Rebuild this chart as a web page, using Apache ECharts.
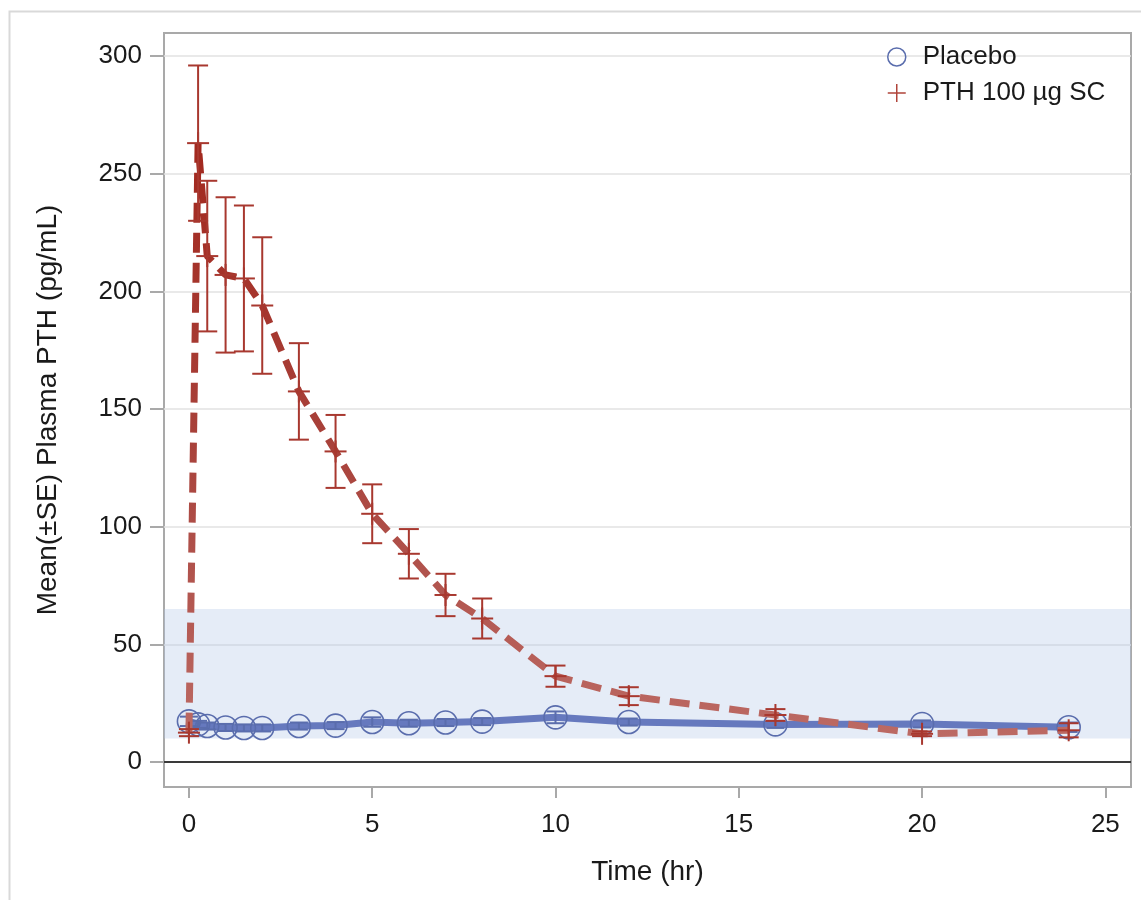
<!DOCTYPE html>
<html>
<head>
<meta charset="utf-8">
<script src="https://cdn.jsdelivr.net/npm/echarts@6/dist/echarts.min.js"></script>
<style>
html,body{margin:0;padding:0;background:#fff;}
#chart{width:1141px;height:900px;}
</style>
</head>
<body>
<div id="chart"></div>
<script>
// ---- data ----
const times = [0, 0.25, 0.5, 1, 1.5, 2, 3, 4, 5, 6, 7, 8, 10, 12, 16, 20, 24];
const placeboMean = [17.3, 16, 15.3, 14.7, 14.5, 14.5, 15.3, 15.5, 17, 16.5, 16.8, 17.2, 19, 17, 16, 16.2, 14.8];
const placeboSE   = [2, 1.5, 1.5, 1.5, 1.5, 1.5, 1.5, 1.5, 2, 1.5, 1.5, 1.5, 2.5, 1.5, 1.5, 1.5, 2];
const pthMean = [12.5, 263, 215, 207, 205.5, 194, 157.5, 132, 105.5, 88.5, 71, 61, 36.5, 28, 20, 12, 13.5];
const pthSE   = [1.5, 33, 32, 33, 31, 29, 20.5, 15.5, 12.5, 10.5, 9, 8.5, 4.5, 3.8, 2.5, 1, 3];
const xTicks = [0, 5, 10, 15, 20, 25];
const yTicks = [0, 50, 100, 150, 200, 250, 300];
const normalRange = [10, 65];
const seriesNames = ['Placebo', 'PTH 100 µg SC'];

const FONT = '"Liberation Sans", Arial, sans-serif';
const BLUE_LINE = '#6679BE';
const BLUE_MARK = '#5A6DAD';
const RED_MARK = '#A8382F';

function zip2(xs, ys) { return xs.map((x, i) => [x, ys[i]]); }
function zip3(xs, ys, es) { return xs.map((x, i) => [x, ys[i], es[i]]); }

function errRender(color, cap, plus) {
  return function (params, api) {
    const x = api.value(0), m = api.value(1), se = api.value(2);
    const top = api.coord([x, m + se]);
    const bot = api.coord([x, m - se]);
    const mid = api.coord([x, m]);
    const st = { stroke: color, lineWidth: 2, fill: null };
    const ch = [
      { type: 'line', shape: { x1: top[0], y1: top[1], x2: bot[0], y2: bot[1] }, style: st },
      { type: 'line', shape: { x1: top[0] - cap, y1: top[1], x2: top[0] + cap, y2: top[1] }, style: st },
      { type: 'line', shape: { x1: bot[0] - cap, y1: bot[1], x2: bot[0] + cap, y2: bot[1] }, style: st }
    ];
    if (plus) {
      ch.push({ type: 'line', shape: { x1: mid[0] - plus, y1: mid[1], x2: mid[0] + plus, y2: mid[1] }, style: st });
      ch.push({ type: 'line', shape: { x1: mid[0], y1: mid[1] - plus, x2: mid[0], y2: mid[1] + plus }, style: st });
    }
    return { type: 'group', children: ch };
  };
}

const chart = echarts.init(document.getElementById('chart'), null, { renderer: 'canvas' });
chart.setOption({
  backgroundColor: '#fff',
  animation: false,
  textStyle: { fontFamily: FONT },
  graphic: [{
    type: 'rect', left: 7, top: 9, z: -10,
    shape: { width: 1300, height: 1000 },
    style: { fill: null, stroke: '#D9D9D9', lineWidth: 2 }
  }],
  grid: {
    left: 164, right: 10, top: 33, bottom: 113,
    show: true, borderColor: '#A9A9A9', borderWidth: 2, backgroundColor: 'transparent'
  },
  legend: {
    orient: 'vertical',
    left: 882, top: 39,
    itemWidth: 18, itemHeight: 18, itemGap: 10,
    textStyle: { fontFamily: FONT, fontSize: 26, color: '#1a1a1a', padding: [0, 0, 0, 12] },
    data: [
      { name: seriesNames[0], icon: 'circle', itemStyle: { color: 'rgba(0,0,0,0)', borderColor: BLUE_MARK, borderWidth: 1.5 } },
      { name: seriesNames[1], icon: 'path://M0,10L20,10M10,0L10,20', itemStyle: { color: 'rgba(0,0,0,0)', borderColor: '#B0443A', borderWidth: 1.5 } }
    ]
  },
  xAxis: {
    type: 'value', min: -0.68, max: 25.7,
    name: 'Time (hr)', nameLocation: 'middle', nameGap: 85,
    nameTextStyle: { fontFamily: FONT, fontSize: 28, color: '#1a1a1a', verticalAlign: 'middle' },
    axisLine: { show: false, onZero: false },
    axisTick: { show: true, inside: false, length: 11, customValues: xTicks, lineStyle: { color: '#A9A9A9', width: 2 } },
    axisLabel: { customValues: xTicks, fontFamily: FONT, fontSize: 26, color: '#1a1a1a', margin: 25 },
    splitLine: { show: false }
  },
  yAxis: {
    type: 'value', min: -10.6, max: 309.8,
    name: 'Mean(±SE) Plasma PTH (pg/mL)', nameLocation: 'middle', nameGap: 116,
    nameTextStyle: { fontFamily: FONT, fontSize: 28, color: '#1a1a1a', verticalAlign: 'middle' },
    axisLine: { show: false, onZero: false },
    axisTick: { show: true, inside: false, length: 14, customValues: yTicks, lineStyle: { color: '#A9A9A9', width: 2 } },
    axisLabel: { customValues: yTicks, fontFamily: FONT, fontSize: 26, color: '#1a1a1a', margin: 22 },
    splitLine: { show: true, lineStyle: { color: '#E2E2E2', width: 1.5 } }
  },
  series: [
    {
      name: '_band', type: 'line', data: [], silent: true,
      markArea: {
        silent: true,
        itemStyle: { color: 'rgba(175,198,232,0.33)' },
        data: [[{ yAxis: normalRange[0] }, { yAxis: normalRange[1] }]]
      },
      markLine: {
        silent: true, symbol: 'none', label: { show: false },
        lineStyle: { color: '#3a3a3a', width: 2, type: 'solid' },
        data: [{ yAxis: 0 }]
      }
    },
    {
      name: seriesNames[0], type: 'line', data: zip2(times, placeboMean),
      symbol: 'circle', symbolSize: 23, showSymbol: true,
      lineStyle: { color: BLUE_LINE, width: 7 },
      itemStyle: { color: 'rgba(0,0,0,0)', borderColor: BLUE_MARK, borderWidth: 1.6 },
      z: 3
    },
    {
      name: 'placeboErr', type: 'custom', data: zip3(times, placeboMean, placeboSE),
      encode: { x: 0, y: 1 }, renderItem: errRender(BLUE_MARK, 9, 0), z: 4, silent: true
    },
    {
      name: seriesNames[1], type: 'line', data: zip2(times, pthMean),
      symbol: 'none',
      itemStyle: { color: '#B0443A' },
      lineStyle: {
        width: 7, type: [20, 10],
        color: new echarts.graphic.LinearGradient(0, 0, 0, 1, [
          { offset: 0, color: '#A2281E' },
          { offset: 0.5, color: '#A8413A' },
          { offset: 1, color: '#BC6A64' }
        ])
      },
      z: 5
    },
    {
      name: 'pthErr', type: 'custom', data: zip3(times, pthMean, pthSE),
      encode: { x: 0, y: 1 }, renderItem: errRender(RED_MARK, 10, 11), z: 6, silent: true
    }
  ]
});
</script>
</body>
</html>
